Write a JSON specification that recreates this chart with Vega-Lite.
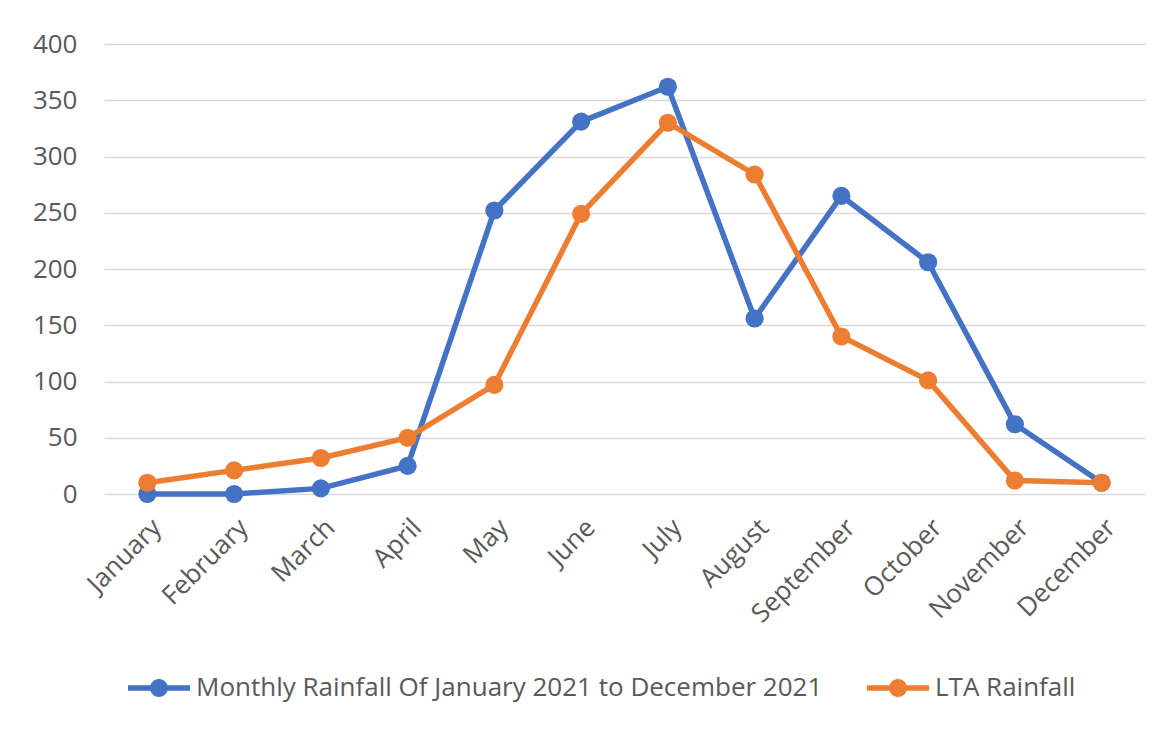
{
  "$schema": "https://vega.github.io/schema/vega-lite/v6.json",
  "autosize": "none",
  "width": 1041,
  "height": 450,
  "padding": {"left": 104, "top": 44, "right": 14, "bottom": 237},
  "background": "white",
  "config": {
    "view": {"stroke": null},
    "font": "Open Sans",
    "axis": {"labelFont": "Open Sans", "labelColor": "#595959", "labelFontSize": 26},
    "legend": {"labelFont": "Open Sans", "labelColor": "#595959", "labelFontSize": 26, "labelLimit": 0}
  },
  "data": {
    "values": [
      {"month": "January", "series": "Monthly Rainfall Of January 2021 to December 2021", "rain": 0},
      {"month": "February", "series": "Monthly Rainfall Of January 2021 to December 2021", "rain": 0},
      {"month": "March", "series": "Monthly Rainfall Of January 2021 to December 2021", "rain": 5},
      {"month": "April", "series": "Monthly Rainfall Of January 2021 to December 2021", "rain": 25},
      {"month": "May", "series": "Monthly Rainfall Of January 2021 to December 2021", "rain": 252},
      {"month": "June", "series": "Monthly Rainfall Of January 2021 to December 2021", "rain": 331},
      {"month": "July", "series": "Monthly Rainfall Of January 2021 to December 2021", "rain": 362},
      {"month": "August", "series": "Monthly Rainfall Of January 2021 to December 2021", "rain": 156},
      {"month": "September", "series": "Monthly Rainfall Of January 2021 to December 2021", "rain": 265},
      {"month": "October", "series": "Monthly Rainfall Of January 2021 to December 2021", "rain": 206},
      {"month": "November", "series": "Monthly Rainfall Of January 2021 to December 2021", "rain": 62},
      {"month": "December", "series": "Monthly Rainfall Of January 2021 to December 2021", "rain": 10},
      {"month": "January", "series": "LTA Rainfall", "rain": 10},
      {"month": "February", "series": "LTA Rainfall", "rain": 21},
      {"month": "March", "series": "LTA Rainfall", "rain": 32},
      {"month": "April", "series": "LTA Rainfall", "rain": 50},
      {"month": "May", "series": "LTA Rainfall", "rain": 97},
      {"month": "June", "series": "LTA Rainfall", "rain": 249},
      {"month": "July", "series": "LTA Rainfall", "rain": 330},
      {"month": "August", "series": "LTA Rainfall", "rain": 284},
      {"month": "September", "series": "LTA Rainfall", "rain": 140},
      {"month": "October", "series": "LTA Rainfall", "rain": 101},
      {"month": "November", "series": "LTA Rainfall", "rain": 12},
      {"month": "December", "series": "LTA Rainfall", "rain": 10}
    ]
  },
  "mark": {"type": "line", "strokeWidth": 5.5, "point": {"size": 330, "filled": true, "opacity": 1}},
  "encoding": {
    "x": {
      "field": "month", "type": "nominal",
      "sort": ["January","February","March","April","May","June","July","August","September","October","November","December"],
      "scale": {"paddingInner": 0, "paddingOuter": 0.5},
      "axis": {"title": null, "labelAngle": -45, "ticks": false, "domain": false, "labelPadding": 20, "grid": false}
    },
    "y": {
      "field": "rain", "type": "quantitative",
      "scale": {"domain": [0, 400], "nice": false},
      "axis": {"title": null, "values": [0,50,100,150,200,250,300,350,400], "ticks": false, "domain": false, "labelPadding": 27, "gridColor": "#d9d9d9", "gridWidth": 1.5}
    },
    "color": {
      "field": "series", "type": "nominal",
      "scale": {"domain": ["Monthly Rainfall Of January 2021 to December 2021", "LTA Rainfall"], "range": ["#4472C4", "#ED7D31"]},
      "legend": {
        "title": null, "orient": "none", "direction": "horizontal",
        "legendX": 42, "legendY": 631,
        "symbolType": "M-3.1,-0.27L3.1,-0.27L3.1,0.27L-3.1,0.27Z M-0.9,0A0.9,0.9 0 1,1 0.9,0A0.9,0.9 0 1,1 -0.9,0Z",
        "symbolSize": 400, "symbolStrokeWidth": 0, "symbolOpacity": 1,
        "labelOffset": 24, "columnPadding": 44, "padding": 0
      }
    }
  }
}
